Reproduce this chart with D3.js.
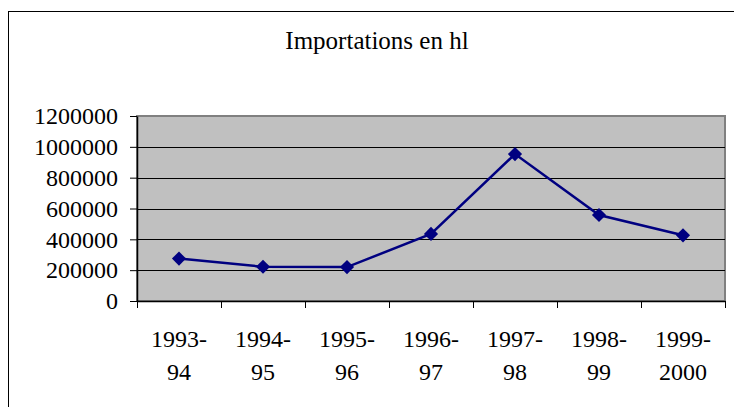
<!DOCTYPE html>
<html>
<head>
<meta charset="utf-8">
<script src="https://cdn.jsdelivr.net/npm/d3@7"></script>
<style>
  body { margin: 0; background: #fff; }
  svg { display: block; font-family: "Liberation Serif", serif; }
</style>
</head>
<body>
<div id="svg-container"></div>
<script>
// data
const categories = [["1993-", "94"], ["1994-", "95"], ["1995-", "96"], ["1996-", "97"], ["1997-", "98"], ["1998-", "99"], ["1999-", "2000"]];
const values = [275000, 222000, 220000, 435000, 953000, 558000, 426000];
const yTicks = [0, 200000, 400000, 600000, 800000, 1000000, 1200000];

const width = 734, height = 407;
const margin = { top: 116, right: 9, bottom: 106, left: 137 };

const svg = d3.select("#svg-container").append("svg")
  .attr("width", width).attr("height", height);

// outer frame (right/bottom edges fall outside the picture)
svg.append("rect")
  .attr("x", 8.5).attr("y", 11.5)
  .attr("width", 760).attr("height", 420)
  .attr("fill", "#fff").attr("stroke", "#000").attr("stroke-width", 1);

svg.append("text")
  .attr("x", 377).attr("y", 49)
  .attr("text-anchor", "middle")
  .attr("font-size", 25)
  .text("Importations en hl");

const idx = d3.range(categories.length);
const xScale = d3.scaleBand().domain(idx).range([margin.left, width - margin.right]);
const yScale = d3.scaleLinear().domain([0, 1200000]).range([height - margin.bottom, margin.top]);

// plot area
svg.append("rect")
  .attr("x", margin.left).attr("y", margin.top)
  .attr("width", width - margin.right - margin.left)
  .attr("height", height - margin.bottom - margin.top)
  .attr("fill", "#c0c0c0").attr("stroke", "#808080").attr("stroke-width", 2);

// gridlines
svg.append("g")
  .selectAll("line")
  .data(yTicks.slice(1, -1))
  .join("line")
  .attr("x1", margin.left).attr("x2", width - margin.right)
  .attr("y1", (d) => Math.round(yScale(d)) + 0.5)
  .attr("y2", (d) => Math.round(yScale(d)) + 0.5)
  .attr("stroke", "#000").attr("stroke-width", 1);

// y axis
const yAxis = d3.axisLeft(yScale).tickValues(yTicks).tickFormat(d3.format("d"))
  .tickSize(7).tickPadding(12).tickSizeOuter(0);
svg.append("g")
  .attr("class", "y-axis")
  .attr("transform", `translate(${margin.left},0)`)
  .call(yAxis)
  .call((g) => g.select(".domain").attr("stroke-width", 1.5))
  .call((g) => g.selectAll("text").attr("font-size", 24).attr("fill", "#000").attr("font-family", "Liberation Serif"));

// x axis (ticks between categories)
const xEdges = d3.scaleLinear().domain([0, categories.length]).range([margin.left, width - margin.right]);
const xAxis = d3.axisBottom(xEdges).ticks(categories.length).tickFormat("").tickSize(7).tickSizeOuter(0);
svg.append("g")
  .attr("class", "x-axis")
  .attr("transform", `translate(0,${height - margin.bottom})`)
  .call(xAxis)
  .call((g) => g.select(".domain").attr("stroke-width", 1.5));

const labels = svg.append("g")
  .selectAll("text")
  .data(categories)
  .join("text")
  .attr("text-anchor", "middle")
  .attr("font-size", 24)
  .attr("x", (d, i) => xScale(i) + xScale.bandwidth() / 2);
labels.append("tspan").attr("y", 347).text((d) => d[0]);
labels.append("tspan")
  .attr("x", (d, i) => xScale(i) + xScale.bandwidth() / 2)
  .attr("y", 380).text((d) => d[1]);

// line
const line = d3.line()
  .x((d, i) => xScale(i) + xScale.bandwidth() / 2)
  .y((d) => yScale(d));
svg.append("path")
  .datum(values)
  .attr("d", line)
  .attr("fill", "none")
  .attr("stroke", "#000080")
  .attr("stroke-width", 2.5);

// markers (diamonds)
svg.append("g")
  .selectAll("path")
  .data(values)
  .join("path")
  .attr("d", d3.symbol(d3.symbolSquare, 100))
  .attr("transform", (d, i) => `translate(${xScale(i) + xScale.bandwidth() / 2},${yScale(d)}) rotate(45)`)
  .attr("fill", "#000080");
</script>
</body>
</html>
